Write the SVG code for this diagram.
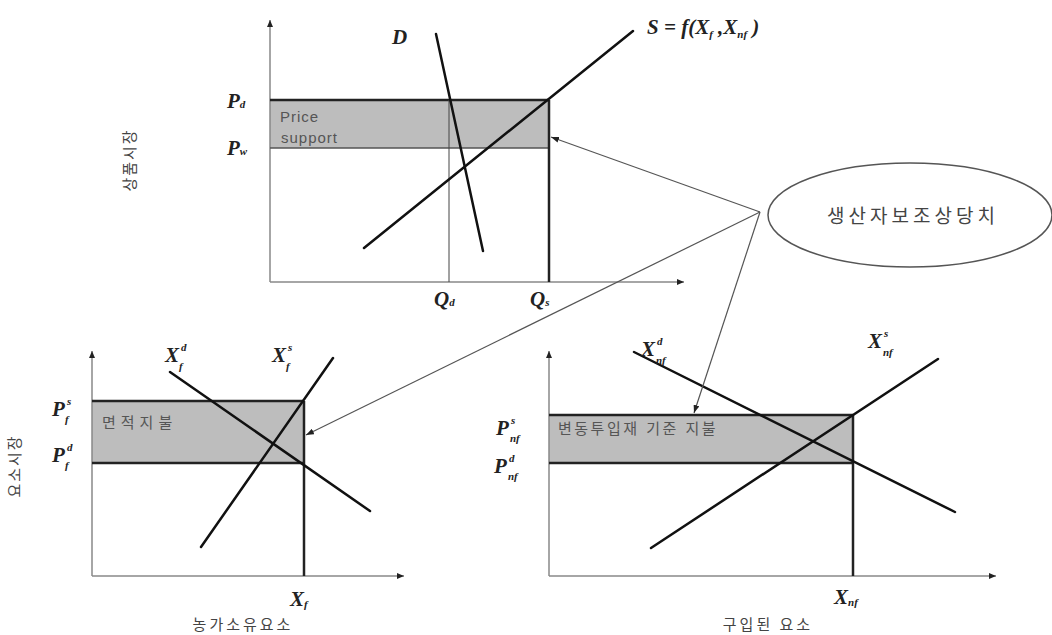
<svg xmlns="http://www.w3.org/2000/svg" width="1052" height="635" viewBox="0 0 1052 635">
<style>
.m{font-family:"Liberation Serif",serif;font-style:italic;font-weight:bold;font-size:21px;fill:#222}
.s{font-size:11px}
.k{font-family:"Noto Sans CJK KR","Noto Sans",sans-serif;fill:#444}
.lbl{font-family:"Liberation Sans","Noto Sans CJK KR",sans-serif;fill:#555}
.axis{stroke:#888;stroke-width:1.5;fill:none}
.curve{stroke:#111;stroke-width:2.5;fill:none;stroke-linecap:round}
.edge{stroke:#222;stroke-width:2.5;fill:none}
.thin{stroke:#444;stroke-width:1;fill:none}
.shade{fill:#bdbdbd}
.conn{stroke:#555;stroke-width:1.2;fill:none}
</style>
<defs>
<marker id="ah" markerWidth="8" markerHeight="6" refX="8" refY="3" orient="auto" markerUnits="userSpaceOnUse"><path d="M0,0 L8,3 L0,6 z" fill="#222"/></marker>
<marker id="ax" markerWidth="7" markerHeight="6" refX="7" refY="3" orient="auto" markerUnits="userSpaceOnUse"><path d="M0,0 L7,3 L0,6 z" fill="#222"/></marker>
</defs>
<rect width="1052" height="635" fill="#fff"/>

<g id="product-market">
<rect class="shade" x="270" y="100" width="279" height="48"/>
<line class="axis" x1="270" y1="282" x2="270" y2="20" marker-end="url(#ax)"/>
<line class="axis" x1="270" y1="282" x2="684" y2="282" marker-end="url(#ax)"/>
<line class="edge" x1="270" y1="100" x2="549" y2="100"/>
<line stroke="#555" stroke-width="1.5" x1="270" y1="148" x2="549" y2="148"/>
<line class="edge" x1="549" y1="100" x2="549" y2="282"/>
<line class="thin" x1="449" y1="100" x2="449" y2="282"/>
<line class="curve" x1="364" y1="248" x2="633" y2="31"/>
<line class="curve" x1="436" y1="34" x2="483" y2="251"/>
<text class="m" x="392" y="44">D</text>
<text class="m" x="647" y="34">S = f(X<tspan class="s" dy="4">f</tspan><tspan dy="-4"> ,X</tspan><tspan class="s" dy="4">nf</tspan><tspan dy="-4"> )</tspan></text>
<text class="m" x="227" y="108">P<tspan class="s">d</tspan></text>
<text class="m" x="227" y="155">P<tspan class="s">w</tspan></text>
<text class="m" x="434" y="306">Q<tspan class="s">d</tspan></text>
<text class="m" x="530" y="306">Q<tspan class="s">s</tspan></text>
<text class="lbl" x="280" y="122" font-size="15" letter-spacing="1">Price</text>
<text class="lbl" x="281" y="143" font-size="15" letter-spacing="1">support</text>
<text class="k" font-size="15" letter-spacing="2" transform="translate(135,160) rotate(-90)" text-anchor="middle">상품시장</text>
</g>

<g id="pse-node">
<ellipse cx="910" cy="215" rx="142" ry="52" fill="none" stroke="#555" stroke-width="1.5"/>
<text class="k" x="913" y="223" font-size="19" letter-spacing="4" text-anchor="middle">생산자보조상당치</text>
</g>

<g id="owned-factor">
<rect class="shade" x="92" y="401" width="212" height="62"/>
<line class="axis" x1="92" y1="576" x2="92" y2="351" marker-end="url(#ax)"/>
<line class="axis" x1="92" y1="576" x2="404" y2="576" marker-end="url(#ax)"/>
<line class="edge" x1="92" y1="401" x2="304" y2="401"/>
<line class="edge" x1="92" y1="463" x2="304" y2="463"/>
<line class="edge" x1="304" y1="401" x2="304" y2="576"/>
<line class="curve" x1="170" y1="372" x2="370" y2="511"/>
<line class="curve" x1="201" y1="547" x2="333" y2="358"/>
<text class="m" x="165" y="362" font-size="23">X<tspan class="s" x="181" y="351">d</tspan><tspan class="s" x="179" y="370">f</tspan></text>
<text class="m" x="272" y="362" font-size="23">X<tspan class="s" x="288" y="351">s</tspan><tspan class="s" x="286" y="370">f</tspan></text>
<text class="m" x="52" y="416" font-size="23">P<tspan class="s" x="67" y="405">s</tspan><tspan class="s" x="65" y="423">f</tspan></text>
<text class="m" x="52" y="462" font-size="23">P<tspan class="s" x="67" y="451">d</tspan><tspan class="s" x="65" y="469">f</tspan></text>
<text class="m" x="290" y="606" font-size="23">X<tspan class="s" dy="2">f</tspan></text>
<text class="lbl" x="102" y="428" font-size="15" letter-spacing="5">면적지불</text>
<text class="k" x="243" y="630" font-size="15" letter-spacing="3" text-anchor="middle">농가소유요소</text>
<text class="k" font-size="15" letter-spacing="2" transform="translate(20,466) rotate(-90)" text-anchor="middle">요소시장</text>
</g>

<g id="purchased-factor">
<rect class="shade" x="549" y="415" width="304" height="48"/>
<line class="axis" x1="549" y1="576" x2="549" y2="351" marker-end="url(#ax)"/>
<line class="axis" x1="549" y1="576" x2="996" y2="576" marker-end="url(#ax)"/>
<line class="edge" x1="549" y1="415" x2="853" y2="415"/>
<line class="edge" x1="549" y1="463" x2="853" y2="463"/>
<line class="edge" x1="853" y1="415" x2="853" y2="576"/>
<line class="curve" x1="634" y1="352" x2="955" y2="512"/>
<line class="curve" x1="651" y1="548" x2="938" y2="359"/>
<text class="m" x="641" y="356" font-size="23">X<tspan class="s" x="657" y="345">d</tspan><tspan class="s" x="656" y="364">nf</tspan></text>
<text class="m" x="868" y="348" font-size="23">X<tspan class="s" x="884" y="337">s</tspan><tspan class="s" x="883" y="356">nf</tspan></text>
<text class="m" x="496" y="435" font-size="23">P<tspan class="s" x="511" y="424">s</tspan><tspan class="s" x="510" y="442">nf</tspan></text>
<text class="m" x="494" y="473" font-size="23">P<tspan class="s" x="509" y="462">d</tspan><tspan class="s" x="508" y="480">nf</tspan></text>
<text class="m" x="834" y="604" font-size="23">X<tspan class="s" dy="2">nf</tspan></text>
<text class="lbl" x="558" y="434" font-size="15" letter-spacing="2.5">변동투입재 기준 지불</text>
<text class="k" x="768" y="630" font-size="15" letter-spacing="3" text-anchor="middle">구입된 요소</text>
</g>

<g id="connectors">
<line class="conn" x1="760" y1="212" x2="551" y2="137" marker-end="url(#ah)"/>
<line class="conn" x1="760" y1="212" x2="306" y2="435" marker-end="url(#ah)"/>
<line class="conn" x1="760" y1="212" x2="694" y2="413" marker-end="url(#ah)"/>
</g>
</svg>
